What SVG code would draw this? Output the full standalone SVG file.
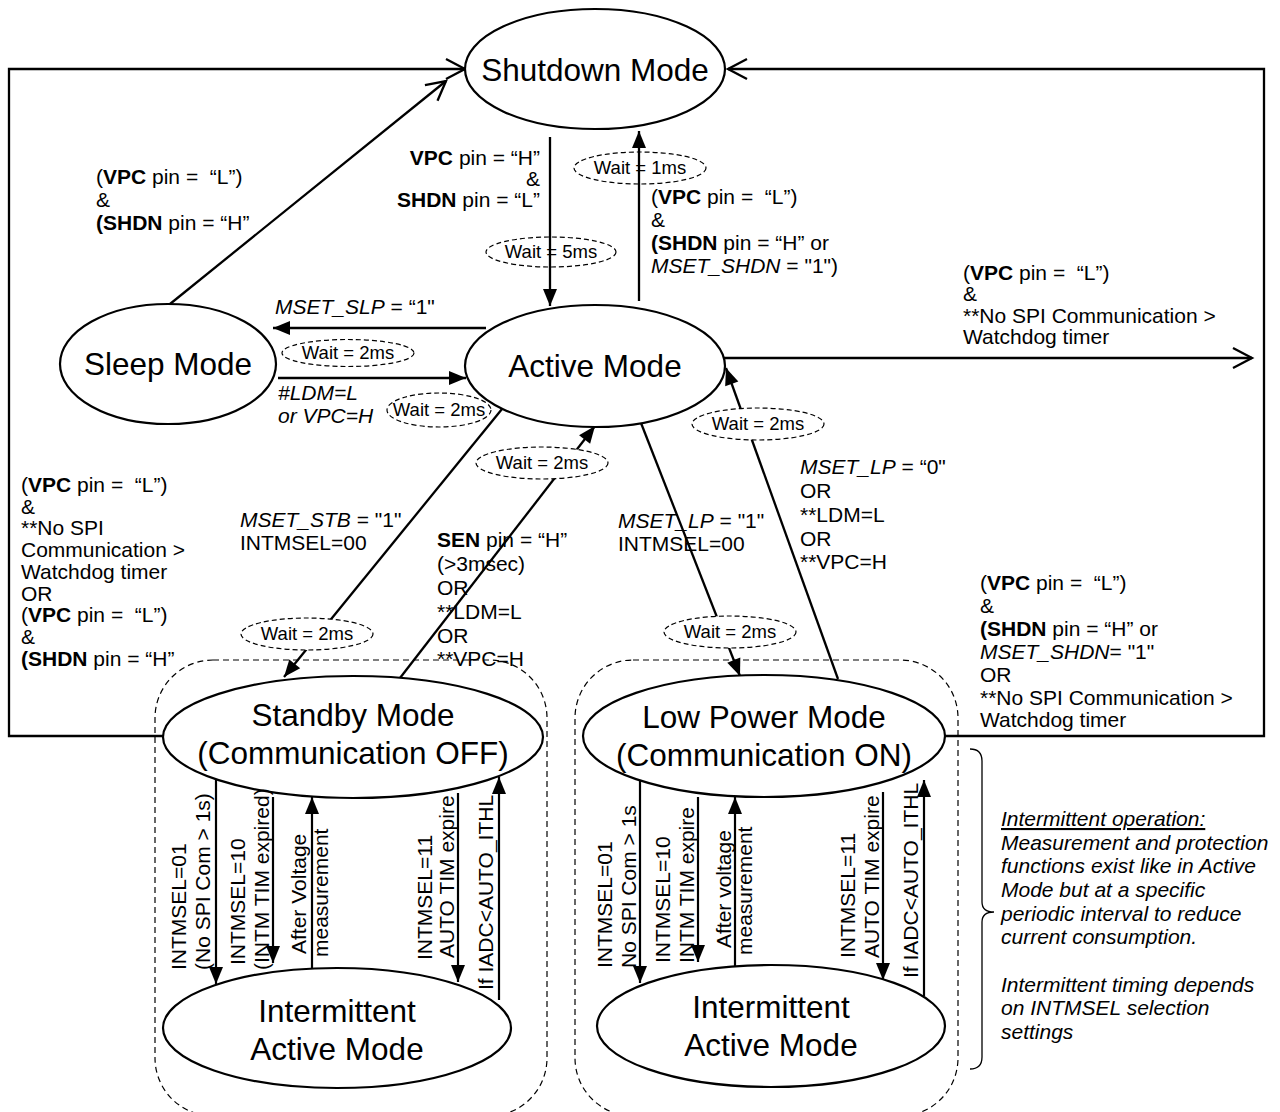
<svg xmlns="http://www.w3.org/2000/svg" width="1280" height="1112" viewBox="0 0 1280 1112">
<defs>
<style>
text{font-family:"Liberation Sans",Arial,Helvetica,sans-serif;fill:#000}
.node{fill:#fff;stroke:#000;stroke-width:2.2}
.nt{font-size:31.5px;text-anchor:middle}
.lb{font-size:21px}
.end{text-anchor:end}
.it{font-style:italic}
.b{font-weight:bold}
.wait{stroke:#000;stroke-width:1.2;stroke-dasharray:5 3}
.wf{fill:#fff}
.wn{fill:none}
.wt{font-size:18.5px;text-anchor:middle}
.cn{fill:none;stroke:#000;stroke-width:2.3}
.fa{marker-end:url(#fa)}
.oa{marker-end:url(#oa)}
.box{fill:none;stroke:#000;stroke-width:1.2;stroke-dasharray:6 4}
.sm{fill:none;stroke:#000;stroke-width:2.2;marker-end:url(#fa)}
.vt{font-size:21px}
.note{font-size:21px;font-style:italic}
.brace{fill:none;stroke:#000;stroke-width:1.3}
</style>
<marker id="fa" viewBox="-18 -8 19 16" refX="0" refY="0" markerWidth="19" markerHeight="16" markerUnits="userSpaceOnUse" orient="auto">
<path d="M0,0 L-17,-7 L-17,7 Z" fill="#000"/>
</marker>
<marker id="oa" viewBox="-22 -12 26 24" refX="0" refY="0" markerWidth="26" markerHeight="24" markerUnits="userSpaceOnUse" orient="auto">
<path d="M-19,-10 L0,0 L-19,10" fill="none" stroke="#000" stroke-width="2.3"/>
</marker>
</defs>
<rect width="1280" height="1112" fill="#fff"/>

<g id="containers">
<rect id="standby-group" class="box" x="155" y="660" width="392" height="456" rx="58"/>
<rect id="lowpower-group" class="box" x="575" y="660" width="383" height="456" rx="58"/>
</g>

<g id="connectors">
<path class="cn oa" d="M163,736 L9,736 L9,69 L465,69"/>
<path class="cn oa" d="M945,736 L1264,736 L1264,69 L728,69"/>
<path class="cn oa" d="M170,304 L446,81"/>
<path class="cn fa" d="M550,137 L550,306"/>
<path class="cn fa" d="M639,301 L639,131"/>
<path class="cn fa" d="M486,328 L273,328"/>
<path class="cn fa" d="M278,378 L466,378"/>
<path class="cn oa" d="M724,358 L1252,358"/>
<path class="cn fa" d="M502,409 L284,677"/>
<path class="cn fa" d="M400,678 L595,426"/>
<path class="cn fa" d="M641,423 L740,676"/>
<path class="cn fa" d="M838,679 L726,368"/>
<path class="sm" d="M216,779 L216,984"/>
<path class="sm" d="M273,797 L273,963"/>
<path class="sm" d="M312,968 L312,797"/>
<path class="sm" d="M458,793 L458,982"/>
<path class="sm" d="M499,1000 L499,777"/>
<path class="sm" d="M640,781 L640,983"/>
<path class="sm" d="M698,797 L698,962"/>
<path class="sm" d="M735,967 L735,797"/>
<path class="sm" d="M883,792 L883,980"/>
<path class="sm" d="M924,996 L924,780"/>
</g>

<g id="shutdown">
<ellipse class="node" cx="595" cy="69" rx="130" ry="60"/>
<text class="nt" x="595" y="81">Shutdown Mode</text>
</g>
<g id="active">
<ellipse class="node" cx="595" cy="366" rx="130" ry="61"/>
<text class="nt" x="595" y="377">Active Mode</text>
</g>
<g id="sleep">
<ellipse class="node" cx="168" cy="364" rx="108" ry="60"/>
<text class="nt" x="168" y="375">Sleep Mode</text>
</g>
<g id="standby">
<ellipse class="node" cx="353" cy="737" rx="190" ry="61"/>
<text class="nt" x="353" y="726">Standby Mode</text>
<text class="nt" x="353" y="764">(Communication OFF)</text>
</g>
<g id="lowpower">
<ellipse class="node" cx="764" cy="736" rx="181" ry="61"/>
<text class="nt" x="764" y="728">Low Power Mode</text>
<text class="nt" x="764" y="766">(Communication ON)</text>
</g>
<g id="intermittent-left">
<ellipse class="node" cx="337" cy="1028" rx="174" ry="60"/>
<text class="nt" x="337" y="1022">Intermittent</text>
<text class="nt" x="337" y="1060">Active Mode</text>
</g>
<g id="intermittent-right">
<ellipse class="node" cx="771" cy="1026" rx="174" ry="61"/>
<text class="nt" x="771" y="1018">Intermittent</text>
<text class="nt" x="771" y="1056">Active Mode</text>
</g>

<g id="waits">
<ellipse class="wait wn" cx="551" cy="252" rx="65" ry="15"/>
<text class="wt" x="551" y="258">Wait = 5ms</text>
<ellipse class="wait wn" cx="640" cy="168" rx="66" ry="16"/>
<text class="wt" x="640" y="174">Wait = 1ms</text>
<ellipse class="wait wf" cx="348" cy="353" rx="66" ry="13.5"/>
<text class="wt" x="348" y="359">Wait = 2ms</text>
<ellipse class="wait wn" cx="439" cy="410" rx="52" ry="17"/>
<text class="wt" x="439" y="416">Wait = 2ms</text>
<ellipse class="wait wf" cx="307" cy="634" rx="66" ry="16"/>
<text class="wt" x="307" y="640">Wait = 2ms</text>
<ellipse class="wait wf" cx="542" cy="463" rx="66" ry="16"/>
<text class="wt" x="542" y="469">Wait = 2ms</text>
<ellipse class="wait wf" cx="730" cy="632" rx="66" ry="16"/>
<text class="wt" x="730" y="638">Wait = 2ms</text>
<ellipse class="wait wf" cx="758" cy="424" rx="66" ry="16"/>
<text class="wt" x="758" y="430">Wait = 2ms</text>
</g>

<g id="labels" class="lb">
<text class="lb" x="96" y="184">(<tspan class="b">VPC</tspan> pin =&#160; “L”)</text>
<text class="lb" x="96" y="207">&amp;</text>
<text class="lb" x="96" y="230"><tspan class="b">(SHDN</tspan> pin = “H”</text>

<text class="lb end" x="540" y="165"><tspan class="b">VPC</tspan> pin = “H”</text>
<text class="lb end" x="540" y="186">&amp;</text>
<text class="lb end" x="540" y="207"><tspan class="b">SHDN</tspan> pin = “L”</text>

<text class="lb" x="651" y="204">(<tspan class="b">VPC</tspan> pin =&#160; “L”)</text>
<text class="lb" x="651" y="227">&amp;</text>
<text class="lb" x="651" y="250"><tspan class="b">(SHDN</tspan> pin = “H” or</text>
<text class="lb" x="651" y="273"><tspan class="it">MSET_SHDN</tspan> = "1")</text>

<text class="lb" x="963" y="280">(<tspan class="b">VPC</tspan> pin =&#160; “L”)</text>
<text class="lb" x="963" y="301">&amp;</text>
<text class="lb" x="963" y="323">**No SPI Communication &gt;</text>
<text class="lb" x="963" y="344">Watchdog timer</text>

<text class="lb" x="275" y="314"><tspan class="it">MSET_SLP</tspan> = “1"</text>
<text class="lb it" x="278" y="400">#LDM=L</text>
<text class="lb it" x="278" y="423">or VPC=H</text>

<text class="lb" x="21" y="492">(<tspan class="b">VPC</tspan> pin =&#160; “L”)</text>
<text class="lb" x="21" y="514">&amp;</text>
<text class="lb" x="21" y="535">**No SPI</text>
<text class="lb" x="21" y="557">Communication &gt;</text>
<text class="lb" x="21" y="579">Watchdog timer</text>
<text class="lb" x="21" y="601">OR</text>
<text class="lb" x="21" y="622">(<tspan class="b">VPC</tspan> pin =&#160; “L”)</text>
<text class="lb" x="21" y="644">&amp;</text>
<text class="lb" x="21" y="666"><tspan class="b">(SHDN</tspan> pin = “H”</text>

<text class="lb" x="240" y="527"><tspan class="it">MSET_STB</tspan> = "1"</text>
<text class="lb" x="240" y="550">INTMSEL=00</text>

<text class="lb" x="437" y="547"><tspan class="b">SEN</tspan> pin = “H”</text>
<text class="lb" x="437" y="571">(&gt;3msec)</text>
<text class="lb" x="437" y="595">OR</text>
<text class="lb" x="437" y="619">**LDM=L</text>
<text class="lb" x="437" y="643">OR</text>
<text class="lb" x="437" y="666">**VPC=H</text>

<text class="lb" x="618" y="528"><tspan class="it">MSET_LP</tspan> = "1"</text>
<text class="lb" x="618" y="551">INTMSEL=00</text>

<text class="lb" x="800" y="474"><tspan class="it">MSET_LP</tspan> = “0"</text>
<text class="lb" x="800" y="498">OR</text>
<text class="lb" x="800" y="522">**LDM=L</text>
<text class="lb" x="800" y="546">OR</text>
<text class="lb" x="800" y="569">**VPC=H</text>

<text class="lb" x="980" y="590">(<tspan class="b">VPC</tspan> pin =&#160; “L”)</text>
<text class="lb" x="980" y="613">&amp;</text>
<text class="lb" x="980" y="636"><tspan class="b">(SHDN</tspan> pin = “H” or</text>
<text class="lb" x="980" y="659"><tspan class="it">MSET_SHDN</tspan>= "1"</text>
<text class="lb" x="980" y="682">OR</text>
<text class="lb" x="980" y="705">**No SPI Communication &gt;</text>
<text class="lb" x="980" y="727">Watchdog timer</text>

<text class="vt" transform="translate(186,970) rotate(-90)">INTMSEL=01</text>
<text class="vt" transform="translate(210,970) rotate(-90)">(No SPI Com &gt; 1s)</text>
<text class="vt" transform="translate(245,965) rotate(-90)">INTMSEL=10</text>
<text class="vt" transform="translate(269,970) rotate(-90)">(INTM TIM expired)</text>
<text class="vt" transform="translate(306,954) rotate(-90)">After Voltage</text>
<text class="vt" transform="translate(328,957) rotate(-90)">measurement</text>
<text class="vt" transform="translate(432,960) rotate(-90)">INTMSEL=11</text>
<text class="vt" transform="translate(454,958) rotate(-90)">AUTO TIM expire</text>
<text class="vt" transform="translate(493,990) rotate(-90)">If IADC&lt;AUTO_ITHL</text>

<text class="vt" transform="translate(612,968) rotate(-90)">INTMSEL=01</text>
<text class="vt" transform="translate(636,968) rotate(-90)">No SPI Com &gt; 1s</text>
<text class="vt" transform="translate(670,963) rotate(-90)">INTMSEL=10</text>
<text class="vt" transform="translate(694,963) rotate(-90)">INTM TIM expire</text>
<text class="vt" transform="translate(731,948) rotate(-90)">After voltage</text>
<text class="vt" transform="translate(752,955) rotate(-90)">measurement</text>
<text class="vt" transform="translate(855,958) rotate(-90)">INTMSEL=11</text>
<text class="vt" transform="translate(879,958) rotate(-90)">AUTO TIM expire</text>
<text class="vt" transform="translate(918,978) rotate(-90)">If IADC&lt;AUTO_ITHL</text>
</g>

<g id="note">
<path class="brace" d="M970,749 Q982,749 982,761 L982,902 Q982,912 994,912 Q982,912 982,922 L982,1057 Q982,1069 970,1069"/>
<text class="note" x="1001" y="826" text-decoration="underline">Intermittent operation:</text>
<text class="note" x="1001" y="850">Measurement and protection</text>
<text class="note" x="1001" y="873">functions exist like in Active</text>
<text class="note" x="1001" y="897">Mode but at a specific</text>
<text class="note" x="1001" y="921">periodic interval to reduce</text>
<text class="note" x="1001" y="944">current consumption.</text>
<text class="note" x="1001" y="992">Intermittent timing depends</text>
<text class="note" x="1001" y="1015">on INTMSEL selection</text>
<text class="note" x="1001" y="1039">settings</text>
</g>
</svg>
